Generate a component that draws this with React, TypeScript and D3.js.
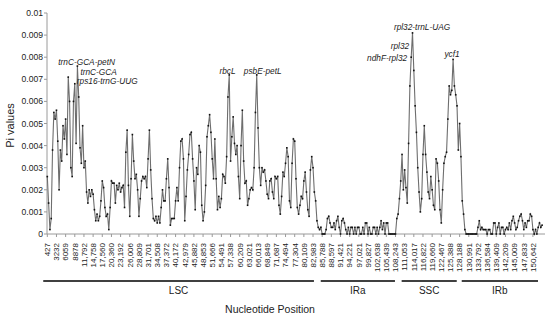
import { useEffect, useRef } from "react";
import * as d3 from "d3";

// sliding-window nucleotide diversity (Pi), one value per window
const piValues = [
  0.0026, 0.0014, 0.0002, 0.0007, 0.0038, 0.0055, 0.0052, 0.0056, 0.0042, 0.002,
  0.0038, 0.0033, 0.0049, 0.0043, 0.0052, 0.0036, 0.0071, 0.006, 0.003, 0.0026,
  0.006, 0.0068, 0.0041, 0.0076, 0.0062, 0.0039, 0.0032, 0.0049, 0.003, 0.0033,
  0.0019, 0.0014, 0.002, 0.0017, 0.002, 0.0018, 0.0011, 0.0006, 0.0009, 0.0006,
  0.0008, 0.0015, 0.0024, 0.0021, 0.0012, 0.0008, 0.0009, 0.0002, 0.0012, 0.0024,
  0.0023, 0.0023, 0.0014, 0.0022, 0.002, 0.0023, 0.0019, 0.0021, 0.0022, 0.0012,
  0.0037, 0.0047, 0.0022, 0.0008, 0.0025, 0.0045, 0.0033, 0.0025, 0.0027, 0.002,
  0.0008, 0.0016, 0.0024, 0.0026, 0.0025, 0.0026, 0.0021, 0.0034, 0.0047, 0.0029,
  0.0016, 0.0007, 0.0006, 0.0008, 0.0005, 0.0008, 0.0005, 0.0012, 0.002, 0.0015,
  0.0015, 0.0025, 0.0034, 0.0021, 0.0004, 0.0007, 0.0007, 0.0007, 0.0015, 0.0021,
  0.0015, 0.003, 0.0042, 0.0043, 0.0034, 0.0006, 0.0017, 0.0029, 0.0036, 0.0045,
  0.0046, 0.0034, 0.0024, 0.0011, 0.003, 0.0027, 0.004, 0.0037, 0.0013, 0.0006,
  0.001, 0.0022, 0.0044, 0.0049, 0.0054, 0.0046, 0.0034, 0.0025, 0.0043, 0.0025,
  0.0011, 0.0017, 0.0012, 0.0016, 0.0027, 0.0026, 0.0023, 0.0035, 0.0062, 0.0072,
  0.0033, 0.0044, 0.0053, 0.0041, 0.0036, 0.004, 0.0026, 0.0016, 0.004, 0.0056,
  0.0033, 0.0023, 0.0024, 0.0013, 0.0016, 0.002, 0.0021, 0.002, 0.003, 0.0055,
  0.0072, 0.0048, 0.003, 0.0022, 0.003, 0.0028, 0.0029, 0.0024, 0.0018, 0.0016,
  0.0024, 0.0025, 0.0019, 0.0016, 0.0026, 0.0025, 0.0026, 0.0013, 0.0009, 0.0017,
  0.0028, 0.0026, 0.0032, 0.0039, 0.0035, 0.0015, 0.0012, 0.0032, 0.0043, 0.0042,
  0.0025, 0.0012, 0.0009, 0.0013, 0.0017, 0.0016, 0.0024, 0.0028, 0.0019, 0.0011,
  0.0008, 0.0029, 0.0035, 0.003, 0.0019, 0.0015, 0.0006, 0.0003, 0.0002, 0.0003,
  0, 0, 0, 0.0002, 0.0007, 0.0008, 0.0005, 0.0003, 0.0003, 0.0005,
  0.0002, 0.0006, 0.0008, 0.0003, 0, 0.0006, 0.0007, 0.0005, 0.0002, 0,
  0.0003, 0, 0.0003, 0.0003, 0, 0.0003, 0, 0.0003, 0.0003, 0,
  0, 0.0003, 0, 0.0005, 0.0005, 0, 0.0003, 0, 0, 0.0003,
  0.0003, 0, 0.0003, 0, 0.0003, 0.0006, 0.0002, 0.0005, 0, 0.0005,
  0.0005, 0, 0, 0, 0, 0, 0, 0.0007, 0.0009, 0.0016,
  0.0024, 0.0036, 0.002, 0.0029, 0.0021, 0.0014, 0.0041, 0.0067, 0.008, 0.0091,
  0.0074, 0.0058, 0.0046, 0.003, 0.0019, 0.001, 0.0016, 0.0036, 0.0049, 0.0036,
  0.0028, 0.0019, 0.0016, 0.0026, 0.002, 0.0013, 0.0011, 0.0034, 0.0032, 0.0024,
  0.0011, 0.0005, 0.002, 0.0032, 0.0035, 0.0037, 0.0052, 0.0067, 0.0063, 0.0065,
  0.0079, 0.0067, 0.0063, 0.0058, 0.0038, 0.005, 0.0035, 0.0015, 0.0009, 0.0002,
  0, 0, 0, 0, 0, 0, 0, 0, 0, 0.0003,
  0.0006, 0.0002, 0.0003, 0.0002, 0.0002, 0.0002, 0, 0.0002, 0.0002, 0,
  0, 0.0005, 0.0005, 0, 0.0003, 0.0005, 0, 0.0003, 0.0003, 0,
  0.0002, 0.0003, 0.0002, 0.0005, 0.0002, 0.0006, 0.0008, 0.0005, 0.0002, 0.0003,
  0.0006, 0.0008, 0.0009, 0.0006, 0.0002, 0.0005, 0.0003, 0.0006, 0.0006, 0.0009,
  0.0008, 0.0002, 0, 0.0002, 0, 0.0003, 0.0005, 0.0003, 0.0004,
];

// one label every 7 windows
const tickLabels = [
  "427", "3232", "6059", "8878", "11,792", "14,758", "17,560", "20,360", "23,192",
  "26,006", "28,809", "31,701", "34,508", "37,372", "40,172", "42,979", "45,882",
  "48,853", "51,666", "54,491", "57,338", "60,209", "63,021", "66,013", "68,849",
  "71,687", "74,494", "77,304", "80,109", "82,983", "85,788", "88,597", "91,421",
  "94,221", "97,021", "99,827", "102,638", "105,439", "108,243", "111,053",
  "114,017", "116,822", "119,660", "122,467", "125,388", "128,188", "130,991",
  "133,792", "136,584", "139,409", "142,209", "145,009", "147,833", "150,642",
];
const tickEvery = 7;

const yTicks = [0, 0.001, 0.002, 0.003, 0.004, 0.005, 0.006, 0.007, 0.008, 0.009, 0.01];

// genome regions, in window index units
const regionNames = ["LSC", "IRa", "SSC", "IRb"];
const regionStart = [-3.1, 208.9, 270.7, 316.6];
const regionEnd = [203.7, 265.6, 312.8, 374.9];

// highlighted loci and the window they refer to
const geneLabels = ["trnC-GCA-petN", "trnC-GCA", "rps16-trnG-UUG", "rbcL", "psbE-petL", "rpl32-trnL-UAG", "rpl32", "ndhF-rpl32", "ycf1"];
const geneWindow = [16, 23, 21, 139, 160, 279, 278, 278, 310];

const font = "Arial, 'Liberation Sans', sans-serif";

export default function App() {
  const ref = useRef<SVGSVGElement | null>(null);
  const width = 550;
  const height = 320;

  useEffect(() => {
    if (!ref.current) return;
    const svg = d3.select(ref.current);
    svg.selectAll("*").remove();

    const x = d3.scaleLinear().domain([0, piValues.length - 1]).range([47.3, 542.1]);
    const y = d3.scaleLinear().domain([0, 0.01]).range([234, 13]);
    const axisX = 47;

    // y axis
    svg.append("line")
      .attr("x1", axisX).attr("x2", axisX).attr("y1", y(0.01)).attr("y2", y(0))
      .attr("stroke", "#9a9a9a");
    const yt = svg.append("g");
    yTicks.forEach((t) => {
      yt.append("line").attr("x1", axisX - 3).attr("x2", axisX)
        .attr("y1", y(t)).attr("y2", y(t)).attr("stroke", "#9a9a9a");
      yt.append("text").attr("x", axisX - 4).attr("y", y(t)).attr("dy", "0.35em")
        .attr("text-anchor", "end").attr("font-size", 8.6).attr("font-family", font)
        .attr("fill", "#222").text(String(t));
    });
    svg.append("text")
      .attr("transform", `translate(14,${(y(0) + y(0.01)) / 2 + 2}) rotate(-90)`)
      .attr("text-anchor", "middle").attr("font-size", 11).attr("font-family", font)
      .attr("fill", "#222").text("Pi values");

    // x axis
    svg.append("line")
      .attr("x1", axisX).attr("x2", 545).attr("y1", y(0)).attr("y2", y(0))
      .attr("stroke", "#9a9a9a");
    const xt = svg.append("g");
    tickLabels.forEach((lab, j) => {
      const px = x(j * tickEvery);
      xt.append("line").attr("x1", px).attr("x2", px)
        .attr("y1", y(0)).attr("y2", y(0) + 3).attr("stroke", "#9a9a9a");
      xt.append("text")
        .attr("transform", `translate(${px},243) rotate(-90)`)
        .attr("dy", "0.35em").attr("text-anchor", "end")
        .attr("font-size", 8).attr("font-family", font).attr("fill", "#222")
        .text(lab);
    });

    // Pi line + markers
    const line = d3.line<number>().x((_, i) => x(i)).y((d) => y(d));
    svg.append("path").datum(piValues)
      .attr("d", line).attr("fill", "none")
      .attr("stroke", "#6e6e6e").attr("stroke-width", 1.1);
    svg.append("g").selectAll("rect").data(piValues).join("rect")
      .attr("x", (_, i) => x(i) - 0.8).attr("y", (d) => y(d) - 0.8)
      .attr("width", 1.6).attr("height", 1.6).attr("fill", "#111");

    // region brackets
    regionNames.forEach((name, k) => {
      const x0 = x(regionStart[k]);
      const x1 = x(regionEnd[k]);
      svg.append("line").attr("x1", x0).attr("x2", x1).attr("y1", 281).attr("y2", 281)
        .attr("stroke", "#000").attr("stroke-width", 1.5);
      svg.append("text").attr("x", (x0 + x1) / 2).attr("y", 294)
        .attr("text-anchor", "middle").attr("font-size", 10).attr("font-family", font)
        .attr("fill", "#222").text(name);
    });
    svg.append("text").attr("x", 270).attr("y", 313)
      .attr("text-anchor", "middle").attr("font-size", 10.5).attr("font-family", font)
      .attr("fill", "#222").text("Nucleotide Position");

    // gene annotations
    const place: [string, number, number][] = [
      ["start", -10, -12.5],
      ["start", 3, 9],
      ["start", 2, 0],
      ["middle", -1.8, -1],
      ["middle", 6, -1],
      ["middle", 9.5, -2.4],
      ["end", -2, -8],
      ["end", -4, 3.3],
      ["middle", -1, -2.4],
    ];
    geneLabels.forEach((g, k) => {
      const idx = geneWindow[k];
      const [anchor, dx, dy] = place[k];
      svg.append("text")
        .attr("x", x(idx) + dx).attr("y", y(piValues[idx]) + dy)
        .attr("text-anchor", anchor).attr("font-size", 8.3)
        .attr("font-style", "italic").attr("font-family", font).attr("fill", "#222")
        .text(g);
    });
  }, []);

  return (
    <svg
      ref={ref}
      width={width}
      height={height}
      style={{ position: "absolute", left: 0, top: 0, background: "#fff" }}
    />
  );
}
